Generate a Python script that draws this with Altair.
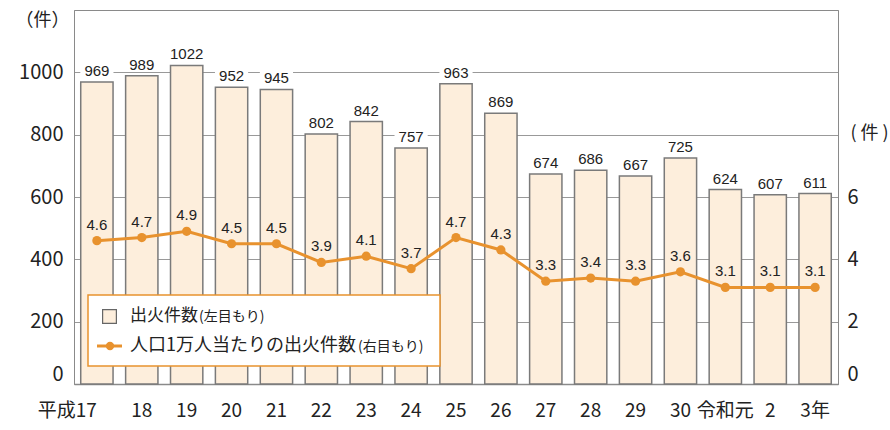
import altair as alt
import pandas as pd

cats = ["平成17", "18", "19", "20", "21", "22", "23", "24", "25", "26",
        "27", "28", "29", "30", "令和元", "2", "3年"]
fires = [969, 989, 1022, 952, 945, 802, 842, 757, 963, 869,
         674, 686, 667, 725, 624, 607, 611]
rate = [4.6, 4.7, 4.9, 4.5, 4.5, 3.9, 4.1, 3.7, 4.7, 4.3,
        3.3, 3.4, 3.3, 3.6, 3.1, 3.1, 3.1]
left_ticks = [0, 200, 400, 600, 800, 1000]
right_ticks = [0, 2, 4, 6]
legend_bar = ["出火件数", "(左目もり)"]
legend_line = ["人口1万人当たりの出火件数", "(右目もり)"]

df = pd.DataFrame({"cat": cats, "fires": fires, "rate": rate})

ORANGE = "#E8922E"
PEACH = "#FDEEDC"
GRAY = "#8a8a8a"
FONT = "Noto Sans CJK JP"
NUM = "Liberation Sans"

x = alt.X(
    "cat:N", sort=cats,
    scale=alt.Scale(paddingInner=0.28, paddingOuter=0.15),
    axis=alt.Axis(
        title=None, labelAngle=0, ticks=False, domainColor=GRAY, domainWidth=1.5,
        labelFont=FONT, labelFontSize=19, labelColor="#222", labelPadding=17,
        labelAlign={"condition": {"test": "datum.value === '平成17'", "value": "right"}, "value": "center"},
    ),
)

y_left = alt.Y(
    "fires:Q",
    scale=alt.Scale(domain=[0, 1200], nice=False),
    axis=alt.Axis(
        orient="left", values=left_ticks, format="d", grid=True, gridColor="#999", gridWidth=1,
        ticks=False, domainColor=GRAY, labelFont=FONT, labelFontSize=20,
        labelColor="#222", labelPadding=11, labelFlush=True,
        title="（件）", titleAngle=0, titleX=-32, titleY=10, titleAlign="center",
        titleBaseline="middle", titleFont=FONT, titleFontSize=18,
        titleFontWeight="normal", titleColor="#222",
    ),
)

y_right = alt.Y(
    "rate:Q",
    scale=alt.Scale(domain=[0, 12], nice=False),
    axis=alt.Axis(
        orient="right", values=right_ticks, format="d", grid=False, ticks=False,
        domainColor=GRAY, labelFont=FONT, labelFontSize=20, labelColor="#222",
        labelPadding=9, labelFlush=True,
        title="( 件 )", titleAngle=0, titleX=31, titleY=123, titleAlign="center",
        titleBaseline="middle", titleFont=FONT, titleFontSize=18,
        titleFontWeight="normal", titleColor="#222",
    ),
)

base = alt.Chart(df)

bars = base.mark_bar(fill=PEACH, stroke="#7a7a7a", strokeWidth=1.5).encode(x=x, y=y_left)

box_shape = "M-1,-0.44L1,-0.44L1,0.44L-1,0.44Z"
boxes = base.mark_point(shape=box_shape, filled=True, fill="white", strokeWidth=0,
                        opacity=1, size=1100, yOffset=-11).encode(
    x=x, y=alt.Y("fires:Q"))

bar_text = base.mark_text(font=NUM, fontSize=15, color="#222", dy=-11,
                          baseline="middle").encode(
    x=x, y=alt.Y("fires:Q"), text="fires:Q")

line = base.mark_line(color=ORANGE, strokeWidth=3).encode(x=x, y=y_right)
points = base.mark_point(filled=True, fill=ORANGE, color=ORANGE, opacity=1,
                         size=85).encode(x=x, y=alt.Y("rate:Q"))
rate_text = base.mark_text(font=NUM, fontSize=15, color="#222", dy=-16,
                           baseline="middle").encode(
    x=x, y=alt.Y("rate:Q"), text=alt.Text("rate:Q", format=".1f"))

left_group = alt.layer(bars, boxes, bar_text)
right_group = alt.layer(line, points, rate_text)

leg_box = alt.Chart().mark_rect(fill="white", stroke=ORANGE, strokeWidth=1.5).encode(
    x=alt.value(14), x2=alt.value(366), y=alt.value(285), y2=alt.value(356))
leg_sq = alt.Chart().mark_square(fill=PEACH, stroke="#666", strokeWidth=1.2,
                                 size=190, opacity=1).encode(
    x=alt.value(35.5), y=alt.value(306.5))
leg_rule = alt.Chart().mark_rule(color=ORANGE, strokeWidth=3).encode(
    x=alt.value(23), x2=alt.value(48), y=alt.value(336))
leg_dot = alt.Chart().mark_point(filled=True, fill=ORANGE, opacity=1, size=70).encode(
    x=alt.value(36), y=alt.value(336))
leg_t1 = alt.Chart().mark_text(align="left", baseline="middle", font=FONT,
                               fontSize=17, color="#222").encode(
    x=alt.value(56), y=alt.value(306), text=alt.value(legend_bar[0]))
leg_t1b = alt.Chart().mark_text(align="left", baseline="middle", font=FONT,
                                fontSize=14, color="#222").encode(
    x=alt.value(125), y=alt.value(307), text=alt.value(legend_bar[1]))
leg_t2 = alt.Chart().mark_text(align="left", baseline="middle", font=FONT,
                               fontSize=18, color="#222").encode(
    x=alt.value(56), y=alt.value(336), text=alt.value(legend_line[0]))
leg_t2b = alt.Chart().mark_text(align="left", baseline="middle", font=FONT,
                                fontSize=14, color="#222").encode(
    x=alt.value(284), y=alt.value(337), text=alt.value(legend_line[1]))

legend = alt.layer(leg_box, leg_sq, leg_rule, leg_dot, leg_t1, leg_t1b, leg_t2, leg_t2b)

chart = alt.layer(
    left_group, right_group, legend,
).resolve_scale(y="independent").properties(
    width=764, height=374,
    padding={"left": 74, "top": 10, "right": 52, "bottom": 46},
    autosize=alt.AutoSizeParams(type="none"),
).configure_view(stroke=GRAY, strokeWidth=1)

chart.save("out.html", embed_options={"renderer": "svg", "actions": False})
